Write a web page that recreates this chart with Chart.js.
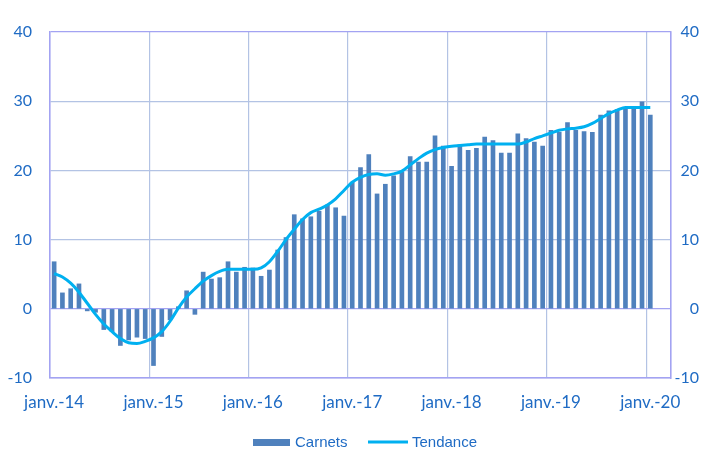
<!DOCTYPE html>
<html>
<head>
<meta charset="utf-8">
<script src="https://cdn.jsdelivr.net/npm/chart.js@4.4.1/dist/chart.umd.min.js"></script>
<style>
  html, body { margin: 0; padding: 0; background: #fff; }
  #wrap { width: 702px; height: 451px; position: relative; }
</style>
</head>
<body>
<div id="wrap"><canvas id="chart"></canvas></div>
<script>
// Data
const monthNames = ['janv.', 'févr.', 'mars', 'avr.', 'mai', 'juin', 'juil.', 'août', 'sept.', 'oct.', 'nov.', 'déc.'];
const years = ['14', '15', '16', '17', '18', '19', '20'];
const nbCategories = 75; // janv.-14 .. mars-20 (axe)

const carnets = [
    6.8, 2.3, 2.9, 3.6, -0.3, -0.5, -3.0, -3.3, -5.3, -4.5, -4.1, -4.3,
    -8.2, -4.0, -1.6, 0.3, 2.6, -0.8, 5.3, 4.3, 4.5, 6.8, 5.3, 6.0,
    5.9, 4.7, 5.6, 8.5, 10.3, 13.6, 13.0, 13.3, 14.1, 15.0, 14.6, 13.4,
    18.3, 20.4, 22.3, 16.6, 18.0, 19.2, 19.8, 22.0, 21.2, 21.2, 25.0, 23.5,
    20.6, 23.7, 22.9, 23.2, 24.8, 24.3, 22.5, 22.5, 25.3, 24.6, 24.1, 23.5,
    25.8, 25.5, 26.9, 25.8, 25.6, 25.5, 28.0, 28.6, 28.8, 29.1, 28.9, 29.9,
    28.0
];

const tendance = [
    5.1, 4.6, 3.7, 2.4, 0.8, -0.8, -2.2, -3.3, -4.3, -4.9, -5.0, -4.7,
    -4.2, -3.3, -1.8, 0.1, 1.7, 2.9, 4.0, 4.8, 5.4, 5.7, 5.7, 5.7,
    5.7, 5.9, 6.8, 8.3, 10.0, 11.5, 12.9, 13.9, 14.4, 15.0, 15.9, 17.1,
    18.3, 19.0, 19.4, 19.5, 19.3, 19.5, 19.9, 20.8, 21.7, 22.5, 23.0, 23.3,
    23.5, 23.6, 23.7, 23.8, 23.8, 23.8, 23.8, 23.8, 23.8, 24.1, 24.6, 25.0,
    25.4, 25.8, 26.0, 26.1, 26.3, 26.8, 27.5, 28.2, 28.7, 29.1, 29.1, 29.1,
    29.1
];

const yMin = -10, yMax = 40, yStep = 10;

// Styles
const BLUE_TXT = '#1f6bc4';
const BAR_COL = '#4f81bd';
const LINE_COL = '#00b0f0';
const GRID_COL = '#b3c3e4';
const AXIS_COL = '#a3a3f2';

const categories = [];
for (let i = 0; i < nbCategories; i++) {
    categories.push(monthNames[i % 12] + '-' + years[Math.floor(i / 12)]);
}

// Legende dessinee a la main (barre + ligne)
const legendPlugin = {
    id: 'legendExcel',
    afterDraw(chart) {
        const c = chart.ctx;
        c.save();
        c.font = '15px "Liberation Sans", Arial, sans-serif';
        c.textBaseline = 'middle';
        c.fillStyle = BAR_COL;
        c.fillRect(253, 439, 37, 7);
        c.fillStyle = BLUE_TXT;
        c.fillText('Carnets', 295, 443);
        c.strokeStyle = LINE_COL;
        c.lineWidth = 3;
        c.beginPath();
        c.moveTo(368, 442);
        c.lineTo(408, 442);
        c.stroke();
        c.fillText('Tendance', 412, 443);
        c.restore();
    }
};

function yGridColor(ctx) {
    const v = ctx.tick ? ctx.tick.value : null;
    return (v === 0 || v === yMin || v === yMax) ? AXIS_COL : GRID_COL;
}

const yTicks = {
    stepSize: yStep,
    color: BLUE_TXT,
    padding: 18,
    font: { family: 'Lato', size: 16 }
};

new Chart(document.getElementById('chart'), {
    data: {
        labels: categories,
        datasets: [
            {
                type: 'line',
                label: 'Tendance',
                data: tendance,
                borderColor: LINE_COL,
                borderWidth: 3,
                pointRadius: 0,
                cubicInterpolationMode: 'monotone',
                order: 0
            },
            {
                type: 'bar',
                label: 'Carnets',
                data: carnets,
                backgroundColor: BAR_COL,
                barThickness: 4,
                order: 1
            }
        ]
    },
    options: {
        responsive: true,
        maintainAspectRatio: false,
        animation: false,
        layout: { padding: { top: 32, left: 0, right: 3, bottom: 0 } },
        plugins: {
            legend: { display: false },
            tooltip: { enabled: false }
        },
        scales: {
            x: {
                type: 'category',
                offset: true,
                grid: {
                    offset: true,
                    drawTicks: false,
                    lineWidth: 1.2,
                    color(ctx) {
                        if (ctx.type !== 'tick') return AXIS_COL;
                        if (ctx.index === 0) return AXIS_COL;
                        return ctx.index % 12 === 0 ? GRID_COL : 'rgba(0,0,0,0)';
                    }
                },
                border: { color: AXIS_COL, width: 1.5 },
                ticks: {
                    autoSkip: false,
                    maxRotation: 0,
                    minRotation: 0,
                    padding: 14,
                    color: BLUE_TXT,
                    font: { family: 'Lato', size: 17 },
                    callback: (v, i) => (i % 12 === 0 ? 'janv.-' + years[i / 12] : '')
                },
                afterFit(scale) { scale.height = 73; }
            },
            y: {
                position: 'left',
                min: yMin,
                max: yMax,
                grid: { drawTicks: false, color: yGridColor, lineWidth: 1.2 },
                border: { color: AXIS_COL, width: 1.5 },
                ticks: yTicks,
                afterFit(scale) { scale.width = 50; }
            },
            y1: {
                position: 'right',
                min: yMin,
                max: yMax,
                grid: { display: false, drawTicks: false },
                border: { color: AXIS_COL, width: 1.5 },
                ticks: Object.assign({}, yTicks, { padding: 8, crossAlign: 'far' }),
                afterFit(scale) { scale.width = 28; }
            }
        }
    },
    plugins: [legendPlugin]
});
</script>
</body>
</html>
